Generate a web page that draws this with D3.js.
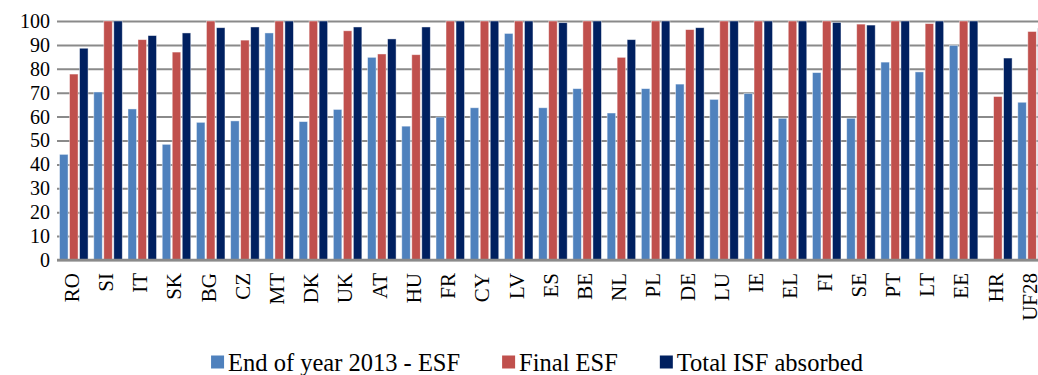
<!DOCTYPE html>
<html>
<head>
<meta charset="utf-8">
<script src="https://cdn.jsdelivr.net/npm/d3@7/dist/d3.min.js"></script>
<style>
  html, body { margin: 0; padding: 0; background: #ffffff; overflow: hidden; }
  svg { display: block; }
  text { font-family: "Liberation Serif", "Times New Roman", serif; fill: #000; }
</style>
</head>
<body>
<svg id="chart" width="1038" height="375" font-family="Liberation Serif, Times New Roman, serif"></svg>
<script>
// Member states (absorption rates, %)
const countries = ["RO","SI","IT","SK","BG","CZ","MT","DK","UK","AT","HU","FR","CY","LV","ES",
                   "BE","NL","PL","DE","LU","IE","EL","FI","SE","PT","LT","EE","HR","UF28"];

// End of year 2013 - ESF
const esf2013 = [44.2, 70.3, 63.2, 48.4, 57.6, 58.2, 95.0, 57.9, 63.0, 84.8, 56.0, 59.8, 63.7, 94.8, 63.7,
                 71.7, 61.5, 71.7, 73.6, 67.2, 69.7, 59.3, 78.4, 59.3, 82.8, 78.7, 89.8, 0, 66.0];

// Final ESF
const esfFinal = [77.8, 100, 92.2, 87.0, 100, 92.0, 100, 100, 95.9, 86.2, 85.9, 100, 100, 100, 100,
                  100, 84.8, 100, 96.4, 100, 100, 100, 100, 98.7, 100, 98.9, 100, 68.4, 95.6];

// Total ISF absorbed
const isfTotal = [88.6, 100, 93.9, 95.0, 97.2, 97.5, 100, 100, 97.5, 92.5, 97.5, 100, 100, 100, 99.3,
                  100, 92.2, 100, 97.2, 100, 100, 100, 99.4, 98.3, 100, 100, 100, 84.5, 97.0];

const seriesNames = ["End of year 2013 - ESF", "Final ESF", "Total ISF absorbed"];
const seriesColors = ["#4F81BD", "#C0504D", "#002060"];
const yTicks = [0, 10, 20, 30, 40, 50, 60, 70, 80, 90, 100];

const serif = "'Liberation Serif', 'Times New Roman', serif";

const seriesValues = [esf2013, esfFinal, isfTotal];
const rows = countries.map((c, i) => ({
  country: c,
  values: seriesNames.map((s, k) => ({ series: s, value: seriesValues[k][i] }))
}));

const svg = d3.select("#chart");
const plot = { left: 57, top: 21, bottom: 260, step: 34.22 };
plot.right = plot.left + plot.step * countries.length;

const x0 = d3.scaleBand()
  .domain(countries)
  .range([plot.left, plot.right])
  .paddingInner(0.123)
  .paddingOuter(0.06);

const x1 = d3.scaleBand()
  .domain(seriesNames)
  .range([0, x0.bandwidth()]);

const y = d3.scaleLinear().domain([0, 100]).range([plot.bottom, plot.top]);

const color = d3.scaleOrdinal().domain(seriesNames).range(seriesColors);

// Horizontal gridlines with value labels
const yAxis = d3.axisLeft(y)
  .tickValues(yTicks)
  .tickSize(-(plot.right - plot.left))
  .tickPadding(7);

const gy = svg.append("g")
  .attr("transform", `translate(${plot.left},0)`)
  .call(yAxis)
  .attr("font-family", serif)
  .attr("font-size", 20);
gy.select(".domain").remove();
gy.selectAll(".tick line")
  .attr("stroke", "#8a8a8a")
  .attr("stroke-width", 2);
gy.selectAll(".tick text")
  .attr("x", -7)
  .style("font-family", serif)
  .style("font-size", "20px")
  .attr("fill", "#000");

// Bars
const groups = svg.append("g")
  .selectAll("g")
  .data(rows)
  .join("g")
  .attr("transform", d => `translate(${x0(d.country)},0)`);

groups.selectAll("rect")
  .data(d => d.values.filter(v => v.value > 0))
  .join("rect")
  .attr("x", d => x1(d.series) + 0.5)
  .attr("y", d => y(d.value))
  .attr("width", x1.bandwidth() - 1.5)
  .attr("height", d => y(0) - y(d.value))
  .attr("fill", d => color(d.series))
  .attr("stroke", "rgba(255,255,255,0.55)")
  .attr("stroke-width", 0.8);

// Baseline
svg.append("line")
  .attr("x1", plot.left).attr("x2", plot.right)
  .attr("y1", y(0)).attr("y2", y(0))
  .attr("stroke", "#8a8a8a")
  .attr("stroke-width", 2.5);

// Category labels, rotated
const xAxis = d3.axisBottom(x0).tickSize(0).tickPadding(0);
const gx = svg.append("g")
  .attr("transform", `translate(0,${plot.bottom})`)
  .call(xAxis)
  .attr("font-family", serif)
  .attr("font-size", 21);
gx.select(".domain").remove();
gx.selectAll(".tick text")
  .style("font-family", serif)
  .style("font-size", "21px")
  .attr("fill", "#000")
  .attr("text-anchor", "end")
  .attr("transform", "rotate(-90)")
  .attr("x", -13)
  .attr("y", 0)
  .attr("dy", "0.22em");

// Legend
const legend = svg.append("g").attr("transform", "translate(0,362)");
const items = legend.selectAll("g")
  .data(seriesNames)
  .join("g");
items.append("rect")
  .attr("width", 13).attr("height", 13)
  .attr("y", -6.5)
  .attr("fill", d => color(d));
items.append("text")
  .attr("x", 17)
  .attr("dy", "0.35em")
  .style("font-family", serif)
  .style("font-size", "24.5px")
  .text(d => d);

const gap = 42;
const widths = items.nodes().map(n => n.getBBox().width);
const total = d3.sum(widths) + gap * (widths.length - 1);
let startX = 537 - total / 2;
items.attr("transform", (d, i) => {
  const t = `translate(${startX},0)`;
  startX += widths[i] + gap;
  return t;
});
</script>
</body>
</html>
